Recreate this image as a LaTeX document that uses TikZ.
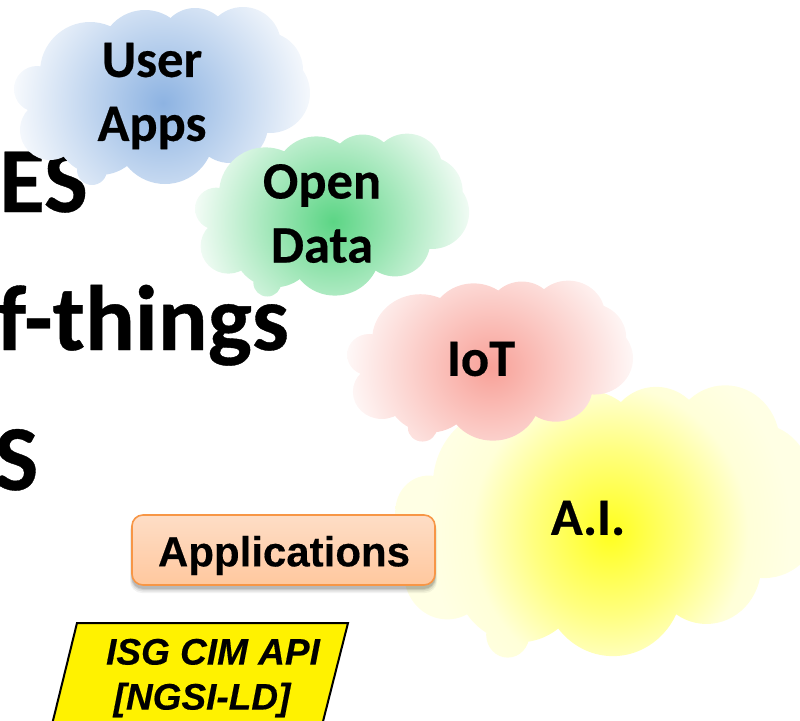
\documentclass[tikz,border=0pt]{standalone}
\usepackage{fontspec}
\setmainfont{Carlito}[BoldFeatures={FakeBold=0.4}]
\newfontfamily\arialf{Liberation Sans}[BoldFeatures={FakeBold=0.3},BoldItalicFeatures={FakeBold=0.3}]
\definecolor{bluec}{HTML}{8DB3E2}
\definecolor{greenc}{HTML}{5CD585}
\definecolor{pinkc}{HTML}{F8A198}
\definecolor{yelc}{HTML}{FFFF1E}
\definecolor{yelm}{HTML}{FFFF80}
\definecolor{yele}{HTML}{FFFFD8}
\definecolor{yelo}{HTML}{FFFFE4}
\definecolor{apptop}{HTML}{FEE8DA}
\definecolor{appbot}{HTML}{FFBD8A}
\definecolor{appline}{HTML}{F79646}
\pgfdeclareradialshading{bluecloud}{\pgfpoint{0bp}{0bp}}{color(0bp)=(bluec);color(27bp)=(white);color(50bp)=(white)}
\pgfdeclareradialshading{greencloud}{\pgfpoint{0bp}{0bp}}{color(0bp)=(greenc);color(27bp)=(white);color(50bp)=(white)}
\pgfdeclareradialshading{pinkcloud}{\pgfpoint{0bp}{0bp}}{color(0bp)=(pinkc);color(27bp)=(white);color(50bp)=(white)}
\pgfdeclareradialshading{yellowcloud}{\pgfpoint{0bp}{0bp}}{color(0bp)=(yelc);color(9bp)=(yelm);color(16bp)=(yele);color(21bp)=(yelo);color(50bp)=(yelo)}
\pgfdeclareverticalshading{appshade}{100bp}{color(0bp)=(appbot);color(100bp)=(apptop)}
\newcommand{\cloudlobes}{
  (-73,-25) circle[radius=50]
  (-126,-8) circle[radius=23]
  (-113,33) circle[radius=30]
  (-18,-42) circle[radius=45]
  (32,-54) circle[radius=35]
  (80,-52) circle[radius=38]
  (102,-27) circle[radius=38]
  (107,-4) circle[radius=40]
  (67,28) circle[radius=38]
  (2,38) circle[radius=49]
  (-71,73) circle[radius=15]
  (-63,33) circle[radius=45]
  (0,0) circle[radius=70]
  (-40,0) circle[radius=60]
  (40,0) circle[radius=60]
}
\newcommand{\cloudshape}[5]{%
  \begin{scope}[shift={(#1,#2)},xscale=#3,yscale=#4]
    \begin{scope}
      \clip \cloudlobes;
      \shade[shading=#5] (-150,-144) rectangle (150,156);
    \end{scope}
  \end{scope}}
\tikzset{
  cloudlabel/.style={font=\fontsize{52.5}{64}\selectfont\bfseries,align=center,text=black,inner sep=0pt},
  bigtext/.style={font=\fontsize{93}{93}\selectfont\bfseries,text=black,inner sep=0pt,anchor=base east},
  appsbox/.style={draw=appline,line width=1.6pt,rounded corners=11pt},
  apitext/.style={font=\arialf\fontsize{37}{45}\selectfont\bfseries\itshape,align=center,inner sep=0pt},
}
\begin{document}
\begin{tikzpicture}[x=1pt,y=-1pt]
\useasboundingbox (0,0) rectangle (800,720);
\begin{scope}
\clip (0,0) rectangle (800,720);
\node[bigtext] (es) at (88,212) {ES};
\node[bigtext] (things) at (289,350) {f-things};
\node[bigtext] (s) at (38.5,490) {S};
\cloudshape{163}{97}{1}{1}{bluecloud}
\cloudshape{333}{216}{0.926}{0.915}{greencloud}
\cloudshape{610}{523}{1.44}{1.53}{yellowcloud}
\cloudshape{491}{362}{0.966}{0.904}{pinkcloud}
\node[cloudlabel] (user) at (152,96) {User\\Apps};
\node[cloudlabel] (open) at (322,213.5) {Open\\Data};
\node[cloudlabel] (iot) at (481,359) {IoT};
\node[cloudlabel] (ai) at (588,518) {A.I.};
\foreach \o/\g in {0.05/5,0.07/3.5,0.09/2,0.10/1}{
  \fill[black,opacity=\o,rounded corners=12pt] (132-\g*0.4,519-\g*0.2) rectangle (435+\g*0.4,588+\g);
}
\path[shading=appshade,appsbox] (132,515) rectangle (435,585);
\node[font=\arialf\fontsize{42}{42}\selectfont\bfseries,inner sep=0pt] (apps) at (284,555.5) {Applications};
\path[fill=yellow,draw=black,line width=2pt,line join=miter] (77,623) -- (348,623) -- (317,745) -- (47,745) -- cycle;
\node[apitext] (api) at (213,678) {ISG CIM API\\{[}NGSI-LD{]}\hspace*{22pt}};
\end{scope}
\end{tikzpicture}
\end{document}
